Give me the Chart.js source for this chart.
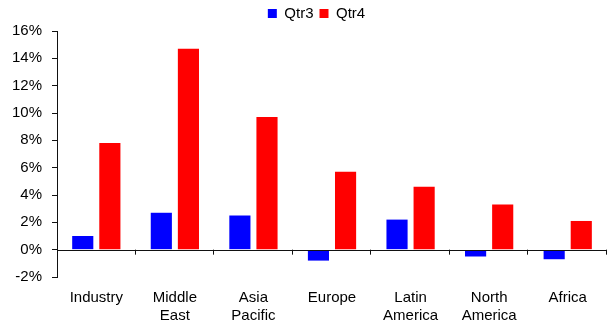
<!DOCTYPE html>
<html>
<head>
<meta charset="utf-8">
<script src="https://cdn.jsdelivr.net/npm/chart.js@4/dist/chart.umd.min.js"></script>
<style>
  html, body { margin: 0; padding: 0; background: #fff; }
  #wrap { width: 608px; height: 327px; }
</style>
</head>
<body>
<div id="wrap"><canvas id="regionChart"></canvas></div>
<script>
const regions = [['Industry'], ['Middle', 'East'], ['Asia', 'Pacific'], ['Europe'], ['Latin', 'America'], ['North', 'America'], ['Africa']];
const qtr3 = [1.0, 2.7, 2.5, -0.8, 2.2, -0.5, -0.7];
const qtr4 = [7.8, 14.7, 9.7, 5.7, 4.6, 3.3, 2.1];
const yTicks = [-2, 0, 2, 4, 6, 8, 10, 12, 14, 16];

// zero line across the plot with small ticks between categories
const zeroAxis = {
    id: 'zeroAxis',
    afterLayout(chart) {
        // legend sits a little right of centre in the original
        chart.legend.left += 12;
        chart.legend.right += 12;
    },
    afterDatasetsDraw(chart) {
        const { ctx, chartArea, scales } = chart;
        const y0 = scales.y.getPixelForValue(0);
        const step = scales.x.getPixelForValue(1) - scales.x.getPixelForValue(0);
        ctx.save();
        ctx.strokeStyle = '#111';
        ctx.lineWidth = 1;
        ctx.beginPath();
        ctx.moveTo(chartArea.left, Math.round(y0) + 0.5);
        ctx.lineTo(chartArea.right, Math.round(y0) + 0.5);
        regions.forEach((r, i) => {
            const x = Math.round(scales.x.getPixelForValue(i) + step / 2) - 0.5;
            ctx.moveTo(x, y0);
            ctx.lineTo(x, y0 + 5);
        });
        ctx.stroke();
        ctx.restore();
    }
};

new Chart(document.getElementById('regionChart').getContext('2d'), {
    type: 'bar',
    data: {
        labels: regions,
        datasets: [{
            label: 'Qtr3',
            data: qtr3,
            backgroundColor: '#0000ff',
            borderWidth: 0
        }, {
            label: 'Qtr4',
            data: qtr4,
            backgroundColor: '#ff0000',
            borderWidth: 0
        }]
    },
    options: {
        responsive: true,
        maintainAspectRatio: false,
        animation: false,
        categoryPercentage: 0.69,
        barPercentage: 0.78,
        layout: {
            padding: { left: 2, right: 1, top: 0, bottom: 0 }
        },
        plugins: {
            legend: {
                position: 'top',
                labels: {
                    color: '#000',
                    boxWidth: 9,
                    boxHeight: 9,
                    padding: 6,
                    font: { family: '"Liberation Sans", Arial, sans-serif', size: 15 }
                }
            },
            tooltip: { enabled: false }
        },
        scales: {
            x: {
                border: { display: false },
                grid: { display: false, drawTicks: false },
                afterFit: scale => { scale.height = 50; },
                ticks: {
                    color: '#000',
                    padding: 11,
                    maxRotation: 0,
                    autoSkip: false,
                    font: { family: '"Liberation Sans", Arial, sans-serif', size: 15, lineHeight: 1.25 }
                }
            },
            y: {
                min: -2,
                max: 16,
                afterBuildTicks: axis => {
                    axis.ticks = yTicks.map(v => ({ value: v }));
                },
                border: { display: true, color: '#111', width: 1 },
                grid: { display: true, drawOnChartArea: false, tickLength: 5, tickColor: '#111' },
                ticks: {
                    color: '#000',
                    padding: 10,
                    callback: value => value + '%',
                    font: { family: '"Liberation Sans", Arial, sans-serif', size: 15 }
                }
            }
        }
    },
    plugins: [zeroAxis]
});
</script>
</body>
</html>
